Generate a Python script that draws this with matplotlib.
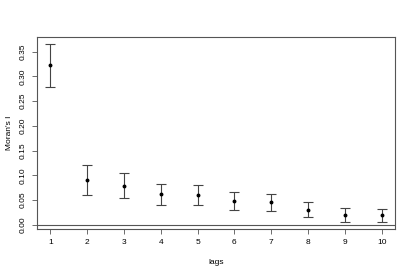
import matplotlib
matplotlib.use("Agg")
import matplotlib.pyplot as plt

plt.rcParams['font.family'] = ['Liberation Sans', 'DejaVu Sans']

# data
lags = [1, 2, 3, 4, 5, 6, 7, 8, 9, 10]
moran = [0.322, 0.091, 0.079, 0.062, 0.061, 0.0485, 0.046, 0.031, 0.020, 0.020]
upper = [0.365, 0.121, 0.104, 0.083, 0.081, 0.066, 0.063, 0.047, 0.035, 0.033]
lower = [0.279, 0.060, 0.054, 0.040, 0.041, 0.030, 0.029, 0.0155, 0.0055, 0.0055]
yticks = [0.00, 0.05, 0.10, 0.15, 0.20, 0.25, 0.30, 0.35]

err_lo = [m - l for m, l in zip(moran, lower)]
err_hi = [u - m for m, u in zip(moran, upper)]

fig = plt.figure(figsize=(4.15, 2.77), dpi=100)
ax = fig.add_axes([0.0892, 0.1733, 0.8626, 0.6931])

ax.errorbar(lags, moran, yerr=[err_lo, err_hi], fmt='o', color='black',
            ecolor='#444444', elinewidth=0.8, capsize=3.6, capthick=0.8,
            markersize=1.8)
ax.axhline(0, color='#555555', linewidth=0.8)

ax.set_xlim(0.64, 10.36)
ax.set_ylim(-0.0082, 0.3795)
ax.set_xticks(lags)
ax.set_yticks(yticks)
ax.set_yticklabels(['%.2f' % t for t in yticks], rotation=90, va='center')
ax.tick_params(labelsize=6, length=3.5, width=0.6, color='#555555', pad=4)

for s in ax.spines.values():
    s.set_linewidth(0.8)
    s.set_color('#555555')

ax.set_xlabel('lags', fontsize=6, labelpad=9)
ax.set_ylabel("Moran's I", fontsize=6, labelpad=5)

fig.savefig('out.png', dpi=100)
